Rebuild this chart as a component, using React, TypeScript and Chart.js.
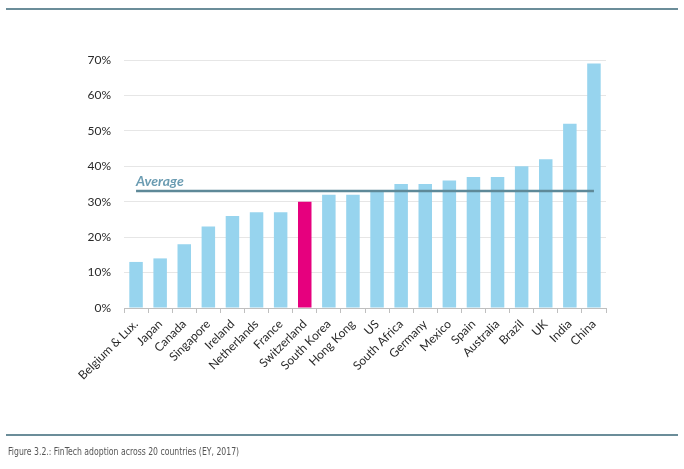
import React, { useEffect, useRef } from "react";
import { Chart, registerables } from "chart.js";

Chart.register(...registerables);

const categories = [
  "Belgium & Lux.", "Japan", "Canada", "Singapore", "Ireland", "Netherlands", "France",
  "Switzerland", "South Korea", "Hong Kong", "US", "South Africa", "Germany", "Mexico",
  "Spain", "Australia", "Brazil", "UK", "India", "China",
];
const adoption = [13, 14, 18, 23, 26, 27, 27, 30, 32, 32, 33, 35, 35, 36, 37, 37, 40, 42, 52, 69];
const average = [33, 33, 33, 33, 33, 33, 33, 33, 33, 33, 33, 33, 33, 33, 33, 33, 33, 33, 33, 33];
const highlighted = "Switzerland";
const yTicks = [0, 10, 20, 30, 40, 50, 60, 70];
const averageLabel = "Average";
const caption = "Figure 3.2.: FinTech adoption across 20 countries (EY, 2017)";

const BAR = "#97d4ee";
const HIGHLIGHT = "#e6007e";
const AVG = "#5e8998";

export default function App() {
  const ref = useRef<HTMLCanvasElement | null>(null);

  useEffect(() => {
    document.body.style.margin = "0";
    const labelPlugin = {
      id: "avgLabel",
      afterDatasetsDraw(chart: any) {
        const { ctx, scales } = chart;
        const x = scales.x.getPixelForValue(0);
        const y = scales.y.getPixelForValue(average[0]);
        ctx.save();
        ctx.font = "italic bold 14px Lato";
        ctx.fillStyle = "#6b9cb2";
        ctx.textAlign = "left";
        ctx.textBaseline = "alphabetic";
        ctx.fillText(averageLabel, x, y - 5);
        ctx.restore();
      },
    };
    const chart = new Chart(ref.current!, {
      type: "bar",
      data: {
        labels: categories,
        datasets: [
          {
            type: "line",
            data: average,
            borderColor: AVG,
            borderWidth: 2.5,
            pointRadius: 0,
            fill: false,
            order: 0,
          } as any,
          {
            type: "bar",
            data: adoption,
            backgroundColor: categories.map((c) => (c === highlighted ? HIGHLIGHT : BAR)),
            barPercentage: 0.7,
            categoryPercentage: 0.8,
            order: 1,
          },
        ],
      },
      options: {
        animation: false,
        responsive: false,
        layout: { padding: { left: 0, right: 78, top: 60, bottom: 0 } },
        plugins: { legend: { display: false }, tooltip: { enabled: false } },
        scales: {
          x: {
            grid: { drawOnChartArea: false, drawTicks: true, tickLength: 5, color: "#bfbfbf", offset: true },
            border: { display: true, color: "#bfbfbf" },
            ticks: {
              maxRotation: 45,
              minRotation: 45,
              autoSkip: false,
              padding: 4,
              color: "#2a2a2a",
              font: { family: "Lato", size: 12 },
            },
            afterFit(scale: any) {
              scale.height = 161;
            },
          },
          y: {
            min: 0,
            max: 70,
            afterBuildTicks(scale: any) {
              scale.ticks = yTicks.map((v) => ({ value: v }));
            },
            grid: { color: "#e6e6e6", drawTicks: false },
            border: { display: false },
            ticks: {
              padding: 13,
              color: "#2a2a2a",
              font: { family: "Lato", size: 12 },
              callback: (v: any) => v + "%",
            },
            afterFit(scale: any) {
              scale.width = 124;
            },
          },
        },
      },
      plugins: [labelPlugin],
    });
    return () => chart.destroy();
  }, []);

  return (
    <div style={{ position: "relative", width: 684, height: 469, background: "#fff", overflow: "hidden" }}>
      <canvas ref={ref} width={684} height={469} style={{ position: "absolute", left: 0, top: 0 }} />
      <div style={{ position: "absolute", left: 6, top: 8, width: 672, height: 2, background: "#6b8d99" }} />
      <div style={{ position: "absolute", left: 6, top: 434, width: 672, height: 2, background: "#6b8d99" }} />
      <div
        style={{
          position: "absolute",
          left: 8,
          top: 446,
          fontFamily: "'Liberation Sans Narrow', 'DejaVu Sans Condensed', sans-serif",
          fontSize: 10,
          color: "#555",
          whiteSpace: "nowrap",
          transform: "scaleX(0.86)",
          transformOrigin: "left top",
        }}
      >
        {caption}
      </div>
    </div>
  );
}
